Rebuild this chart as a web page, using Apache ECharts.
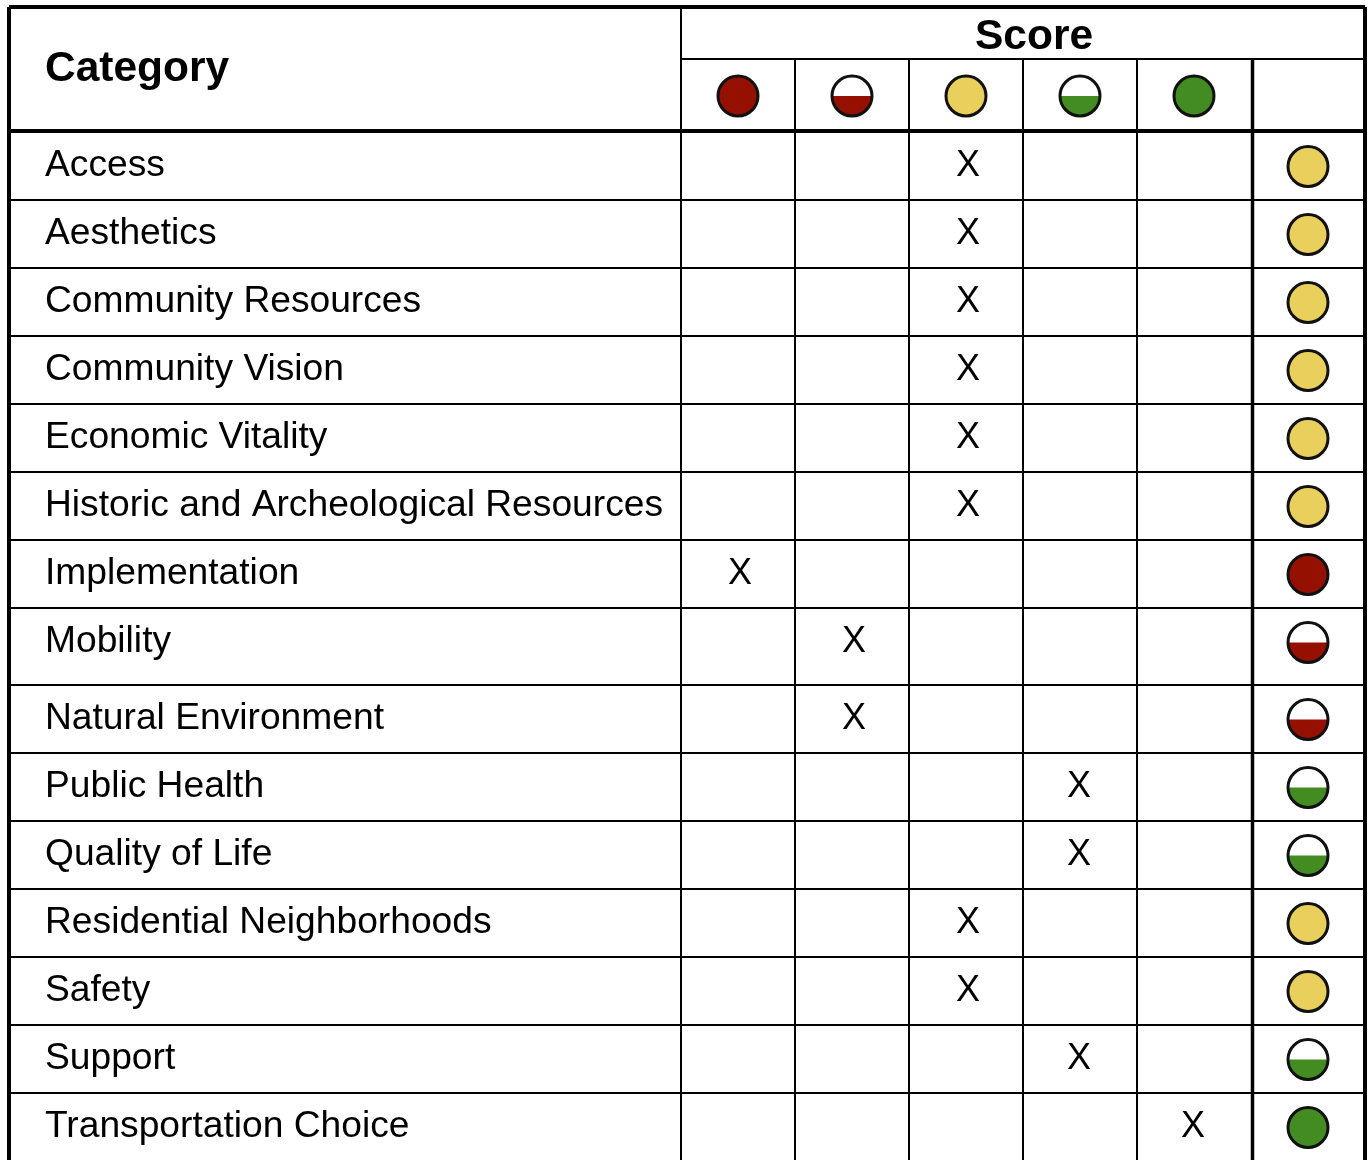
<!DOCTYPE html>
<html>
<head>
<meta charset="utf-8">
<style>
  html, body { margin: 0; background: #fff; }
  #chart { width: 1370px; height: 1160px; }
</style>
<script src="https://cdn.jsdelivr.net/npm/echarts@6/dist/echarts.min.js"></script>
</head>
<body>
<div id="chart"></div>
<script>
const categories = [
  'Access', 'Aesthetics', 'Community Resources', 'Community Vision', 'Economic Vitality',
  'Historic and Archeological Resources', 'Implementation', 'Mobility', 'Natural Environment',
  'Public Health', 'Quality of Life', 'Residential Neighborhoods', 'Safety', 'Support',
  'Transportation Choice'
];
// 0 = red, 1 = half red, 2 = yellow, 3 = half green, 4 = green
const scores = [2, 2, 2, 2, 2, 2, 0, 1, 1, 3, 3, 2, 2, 3, 4];
const levelColors = ['#951000', '#951000', '#e9cf5b', '#428c22', '#428c22'];
const levelHalf = [false, true, false, true, false];
const rowHeights = [68, 68, 68, 68, 68, 68, 68, 77, 68, 68, 68, 68, 68, 68, 68];

// layout, y axis runs in pixels from the top of the picture
const W = 1370, H = 1160, COL0 = 681, COLW = 114;
const HEAD_TOP = 7, HEAD_MID = 59, HEAD_BOTTOM = 131, ROWS_TOP = 132, HEAD_ICON_Y = 96;
const TEXT_DY = 34, ICON_DY = 34.5, ICON_R = 20;
const X_SHIFT = [2, 2, 2, -1, -1];
const LEFT = (9 - COL0) / COLW, RIGHT = (1365 - COL0) / COLW;
const OVERALL_COL = 5, INK = '#000';
const FONT = '"Liberation Sans", Arial, sans-serif';

const rowTops = [];
rowHeights.reduce((y, h) => { rowTops.push(y); return y + h; }, ROWS_TOP);
rowTops.push(H + 10);

const labelNames = {};
categories.forEach((c, i) => { labelNames[rowTops[i] + TEXT_DY] = c; });

// [x0, y0, x1, y1, width]
const rules = [
  [LEFT, HEAD_TOP, RIGHT, HEAD_TOP, 4],
  [LEFT, HEAD_TOP, LEFT, H + 10, 4],
  [RIGHT, HEAD_TOP, RIGHT, H + 10, 4],
  [0, HEAD_TOP, 0, H + 10, 2],
  [0, HEAD_MID, RIGHT, HEAD_MID, 2],
  [LEFT, HEAD_BOTTOM, RIGHT, HEAD_BOTTOM, 4]
];
[1, 2, 3, 4].forEach(c => rules.push([c, HEAD_MID, c, H + 10, 2]));
rules.push([OVERALL_COL + 1.5 / COLW, HEAD_MID, OVERALL_COL + 1.5 / COLW, H + 10, 3.5]);
rowTops.slice(1, -1).forEach(y => rules.push([LEFT, y, RIGHT, y, 2]));

// [column centre, y, level]
const icons = levelColors.map((_, lvl) => [lvl + 0.5, HEAD_ICON_Y, lvl]);
scores.forEach((s, i) => icons.push([OVERALL_COL + 0.5, rowTops[i] + ICON_DY, s]));

const marks = scores.map((s, i) => [s + 0.5 + X_SHIFT[s] / COLW, rowTops[i] + TEXT_DY]);

function renderRule(params, api) {
  const a = api.coord([api.value(0), api.value(1)]);
  const b = api.coord([api.value(2), api.value(3)]);
  return {
    type: 'line',
    shape: { x1: a[0], y1: a[1], x2: b[0], y2: b[1] },
    style: { stroke: INK, lineWidth: api.value(4) }
  };
}

function renderIcon(params, api) {
  const c = api.coord([api.value(0), api.value(1)]);
  const lvl = api.value(2);
  const half = levelHalf[lvl];
  const children = [{
    type: 'circle',
    shape: { cx: c[0], cy: c[1], r: ICON_R },
    style: { fill: half ? '#fff' : levelColors[lvl] }
  }];
  if (half) {
    children.push({
      type: 'sector',
      shape: { cx: c[0], cy: c[1], r0: 0, r: ICON_R, startAngle: 0, endAngle: Math.PI, clockwise: true },
      style: { fill: levelColors[lvl] }
    });
  }
  children.push({
    type: 'circle',
    shape: { cx: c[0], cy: c[1], r: ICON_R },
    style: { fill: 'none', stroke: '#111', lineWidth: 3 }
  });
  return { type: 'group', children };
}

const chart = echarts.init(document.getElementById('chart'), null, { renderer: 'canvas' });
chart.setOption({
  animation: false,
  backgroundColor: '#fff',
  textStyle: { fontFamily: FONT },
  grid: { left: COL0, top: 0, width: COLW * 6, height: H },
  xAxis: { type: 'value', min: 0, max: 6, show: false },
  yAxis: {
    type: 'value', inverse: true, min: 0, max: H,
    splitLine: { show: false }, axisLine: { show: false }, axisTick: { show: false },
    axisLabel: {
      customValues: Object.keys(labelNames).map(Number),
      formatter: v => labelNames[v] || '',
      align: 'left', verticalAlign: 'middle', margin: COL0 - 45,
      color: INK, fontSize: 37.2, fontFamily: FONT
    }
  },
  graphic: [
    { type: 'text', left: 45, top: 48, silent: true,
      style: { text: 'Category', fill: INK, font: 'bold 42.5px ' + FONT } },
    { type: 'text', left: 975, top: 16, silent: true,
      style: { text: 'Score', fill: INK, font: 'bold 42.5px ' + FONT } }
  ],
  series: [
    { type: 'custom', silent: true, clip: false, renderItem: renderRule, data: rules },
    { type: 'custom', silent: true, clip: false, renderItem: renderIcon, data: icons },
    {
      type: 'scatter', silent: true, symbolSize: 0, data: marks,
      itemStyle: { opacity: 1 },
      label: { show: true, position: 'inside', formatter: 'X', color: INK, fontSize: 36,
        fontFamily: FONT }
    }
  ]
});
</script>
</body>
</html>
